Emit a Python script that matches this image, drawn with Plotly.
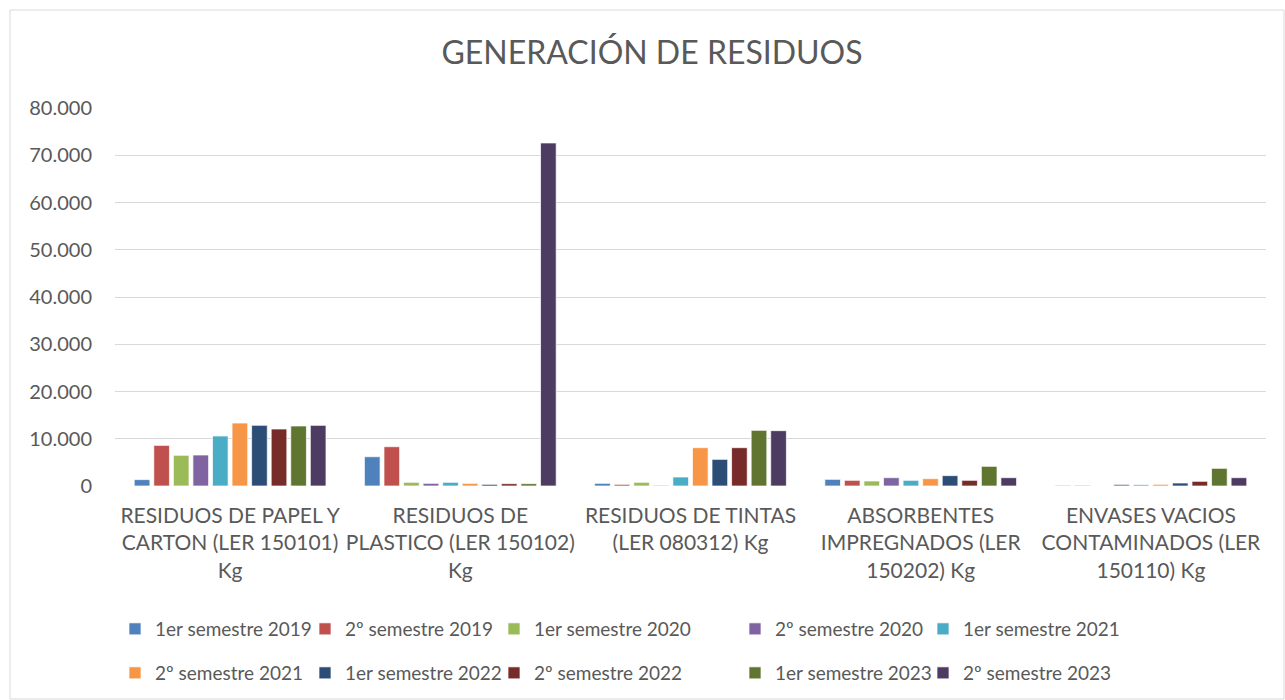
import plotly.graph_objects as go

categories = [
    "RESIDUOS DE PAPEL Y<br>CARTON (LER 150101)<br>Kg",
    "RESIDUOS DE<br>PLASTICO (LER 150102)<br>Kg",
    "RESIDUOS DE TINTAS<br>(LER 080312) Kg",
    "ABSORBENTES<br>IMPREGNADOS (LER<br>150202) Kg",
    "ENVASES VACIOS<br>CONTAMINADOS (LER<br>150110) Kg",
]

series_names = [
    "1er semestre 2019", "2º semestre 2019", "1er semestre 2020", "2º semestre 2020",
    "1er semestre 2021", "2º semestre 2021", "1er semestre 2022", "2º semestre 2022",
    "1er semestre 2023", "2º semestre 2023",
]

s2019_1 = [1350, 6200, 560, 1410, 140]
s2019_2 = [8600, 8320, 350, 1200, 140]
s2020_1 = [6500, 780, 780, 1060, 0]
s2020_2 = [6560, 560, 140, 1760, 350]
s2021_1 = [10580, 780, 1900, 1200, 280]
s2021_2 = [13330, 560, 8110, 1550, 350]
s2022_1 = [12840, 350, 5640, 2190, 630]
s2022_2 = [12060, 490, 8110, 1200, 990]
s2023_1 = [12700, 490, 11780, 4160, 3740]
s2023_2 = [12840, 72600, 11710, 1760, 1760]

series_values = [s2019_1, s2019_2, s2020_1, s2020_2, s2021_1,
                 s2021_2, s2022_1, s2022_2, s2023_1, s2023_2]

colors = ["#4F81BD", "#C0504D", "#9BBB59", "#8064A2", "#4BACC6",
          "#F79646", "#2C4D75", "#772C2A", "#5F7530", "#4D3B62"]

y_ticks = [0, 10000, 20000, 30000, 40000, 50000, 60000, 70000, 80000]

FONT = "Lato"
TXT = "#595959"

W, H = 1285, 700
ML, MR, MT, MB = 115, 19, 108, 214
PW = W - ML - MR
PH = H - MT - MB

def px_x(p):
    return (p - ML) / PW

def px_y(p):
    return (H - MB - p) / PH

fig = go.Figure()

# legend column text starts (px) and row centres (px)
text_starts = [155, 345, 534, 775, 963]
row_y = [629, 673]

legend_layout = {}
for i, (name, vals, col) in enumerate(zip(series_names, series_values, colors)):
    lname = "legend" if i == 0 else f"legend{i+1}"
    fig.add_trace(go.Bar(
        x=categories, y=vals, name=name,
        marker=dict(color=col, line=dict(color="rgba(255,255,255,0.7)", width=1)),
        legend=lname,
    ))
    r, c = divmod(i, 5)
    legend_layout[lname] = dict(
        x=px_x(text_starts[c] - 40), xanchor="left",
        y=px_y(row_y[r]), yanchor="middle",
        orientation="h", bgcolor="rgba(0,0,0,0)", borderwidth=0,
        font=dict(family=FONT, size=19, color=TXT),
    )

fig.update_layout(
    width=W, height=H,
    margin=dict(l=ML, r=MR, t=MT, b=MB, autoexpand=False),
    paper_bgcolor="white", plot_bgcolor="white",
    separators=",.",
    barmode="group", bargap=0.15, bargroupgap=0.2,
    title=dict(text="GENERACIÓN DE RESIDUOS", x=652 / W, xref="container", xanchor="center",
               y=1 - 53 / H, yref="container", yanchor="middle",
               font=dict(family=FONT, size=32, color=TXT)),
    font=dict(family=FONT, size=20, color=TXT),
    xaxis=dict(showgrid=False, showline=False, ticks="", automargin=False,
               tickfont=dict(family=FONT, size=21, color=TXT),
               ticklabelstandoff=15),
    yaxis=dict(range=[0, 80000], tickvals=y_ticks, tickformat=",.0f", automargin=False,
               showgrid=True, gridcolor="#D9D9D9", gridwidth=1, zeroline=False,
               showline=False, ticks="", tickfont=dict(family=FONT, size=20, color=TXT),
               ticklabelstandoff=22),
    showlegend=True,
    **legend_layout,
)

# outer chart border
fig.add_shape(type="rect", xref="paper", yref="paper",
              x0=px_x(10), x1=px_x(1284), y0=px_y(699), y1=px_y(10),
              line=dict(color="#D9D9D9", width=1), fillcolor="rgba(0,0,0,0)", layer="below")

fig.write_html("out.html", config={"displayModeBar": False},
               post_script="document.body.style.margin='0px';")
